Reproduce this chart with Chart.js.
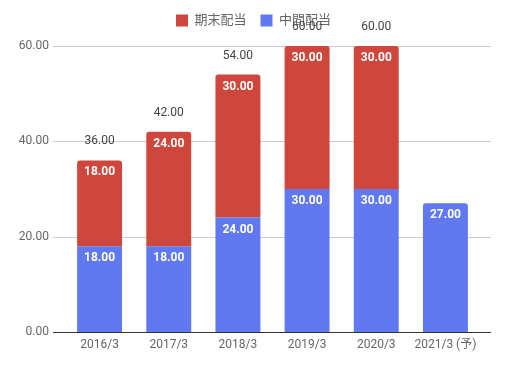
<!DOCTYPE html>
<html>
<head>
<meta charset="utf-8">
<script src="https://cdn.jsdelivr.net/npm/chart.js@4"></script>
<style>
  html, body { margin: 0; padding: 0; background: #fff; }
  #wrap { width: 507px; height: 368px; }
</style>
</head>
<body>
<div id="wrap"><canvas id="haito"></canvas></div>
<script>
// 配当データ
var years = ["2016/3", "2017/3", "2018/3", "2019/3", "2020/3", "2021/3 (予)"];
var chukan = [18, 18, 24, 30, 30, 27];     // 中間配当
var kimatsu = [18, 24, 30, 30, 30, null];  // 期末配当
var goukei = [36, 42, 54, 60, 60, null];   // 合計
var yTicks = [0, 20, 40, 60];

var fontFam = "Roboto, 'Noto Sans CJK JP', sans-serif";

// 凡例の高さを少し足して、ページ中央に置く
var legendPlugin = {
    id: 'legendTweak',
    afterInit: function (chart) {
        var lg = chart.legend;
        var orig = lg.fit;
        lg.fit = function () { orig.call(this); this.height += 9; };
    },
    afterLayout: function (chart) {
        chart.legend.left = 0;
        chart.legend.right = chart.width;
        chart.legend.width = chart.width;
    }
};

// 横グリッド線を描く (軸ラベル側まで伸ばす)
var gridPlugin = {
    id: 'gridLines',
    beforeDatasetsDraw: function (chart) {
        var ctx = chart.ctx, y = chart.scales.y;
        ctx.save();
        yTicks.forEach(function (v) {
            var py = Math.round(y.getPixelForValue(v)) + 0.5;
            ctx.beginPath();
            ctx.strokeStyle = v === 0 ? '#333' : '#ccc';
            ctx.lineWidth = 1;
            ctx.moveTo(53, py);
            ctx.lineTo(491, py);
            ctx.stroke();
        });
        ctx.restore();
    }
};

// 値ラベル
var labelPlugin = {
    id: 'valueLabels',
    afterDatasetsDraw: function (chart) {
        var ctx = chart.ctx;
        ctx.save();
        ctx.textAlign = 'center';
        ctx.textBaseline = 'middle';
        chart.data.datasets.forEach(function (ds, i) {
            var meta = chart.getDatasetMeta(i);
            meta.data.forEach(function (bar, j) {
                if (ds.data[j] == null) return;
                ctx.fillStyle = '#fff';
                ctx.font = 'bold 12px ' + fontFam;
                ctx.fillText(ds.data[j].toFixed(2), bar.x, bar.y + 12);
            });
        });
        var top = chart.getDatasetMeta(1);
        ctx.fillStyle = '#444';
        ctx.font = '12px ' + fontFam;
        goukei.forEach(function (v, j) {
            if (v == null) return;
            ctx.fillText(v.toFixed(2), top.data[j].x, top.data[j].y - 19);
        });
        ctx.restore();
    }
};

new Chart(document.getElementById('haito'), {
    type: 'bar',
    data: {
        labels: years,
        datasets: [{
            label: '中間配当',
            data: chukan,
            backgroundColor: '#6079f0',
            borderRadius: 3,
            categoryPercentage: 1,
            barPercentage: 0.65
        }, {
            label: '期末配当',
            data: kimatsu,
            backgroundColor: '#cf473c',
            borderRadius: 3,
            categoryPercentage: 1,
            barPercentage: 0.65
        }]
    },
    options: {
        responsive: true,
        maintainAspectRatio: false,
        animation: false,
        layout: { padding: { top: 0, right: 27, bottom: 0, left: 0 } },
        plugins: {
            tooltip: { enabled: false },
            legend: {
                position: 'top',
                reverse: true,
                labels: {
                    boxWidth: 12,
                    boxHeight: 12,
                    padding: 14,
                    color: '#666',
                    font: { family: fontFam, size: 13 }
                }
            }
        },
        scales: {
            x: {
                stacked: true,
                grid: { display: false, drawTicks: false },
                border: { display: false },
                ticks: { color: '#666', font: { family: fontFam, size: 12 }, padding: 6 },
                afterFit: function (s) { s.height = 36; }
            },
            y: {
                stacked: true,
                min: 0,
                max: 60,
                grid: { display: false },
                border: { display: false },
                ticks: {
                    stepSize: 20,
                    color: '#666',
                    padding: 8,
                    font: { family: fontFam, size: 12 },
                    callback: function (v) { return v.toFixed(2); }
                },
                afterFit: function (s) { s.width = 65; }
            }
        }
    },
    plugins: [legendPlugin, gridPlugin, labelPlugin]
});
</script>
</body>
</html>
